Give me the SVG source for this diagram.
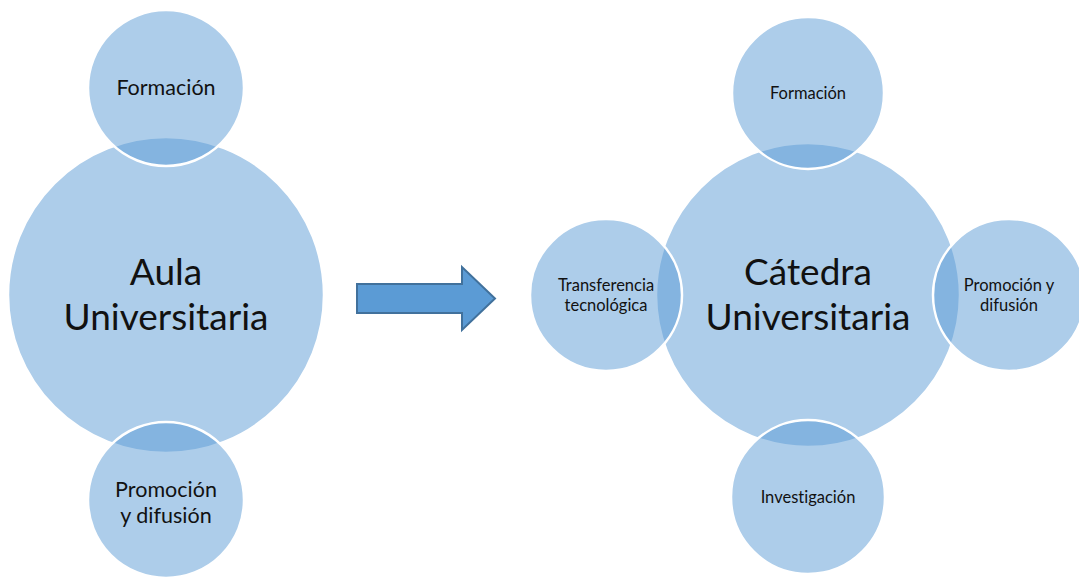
<svg xmlns="http://www.w3.org/2000/svg" width="1079" height="579" viewBox="0 0 1079 579">
<style>
.c{fill:#5b9bd5;fill-opacity:0.5;stroke:#ffffff;stroke-width:2.5}
.t{font-family:Lato,"Liberation Sans",sans-serif;fill:#111111;text-anchor:middle;font-variant-ligatures:none;font-feature-settings:"liga" 0}
.big{font-size:37px}
.mid{font-size:21.5px}
.sm{font-size:16.5px}
</style>
<rect width="1079" height="579" fill="#ffffff"/>
<g id="aula">
<circle class="c" cx="166" cy="295" r="158"/>
<text class="t big" x="166" y="285">Aula</text>
<text class="t big" x="166" y="330">Universitaria</text>
</g>
<g id="aula-formacion">
<circle class="c" cx="166" cy="88" r="78"/>
<text class="t mid" x="166" y="95">Formación</text>
</g>
<g id="aula-promocion">
<circle class="c" cx="166" cy="500" r="78"/>
<text class="t mid" x="166" y="497">Promoción</text>
<text class="t mid" x="166" y="523">y difusión</text>
</g>
<g id="connectors">
<path d="M357,284 H462 V267 L495,298.5 L462,330 V313 H357 Z" fill="#5b9bd5" stroke="#41719c" stroke-width="2"/>
</g>
<g id="catedra">
<circle class="c" cx="808" cy="295" r="152"/>
<text class="t big" x="808" y="285">Cátedra</text>
<text class="t big" x="808" y="330">Universitaria</text>
</g>
<g id="cat-formacion">
<circle class="c" cx="808" cy="93" r="76"/>
<text class="t sm" x="808" y="99">Formación</text>
</g>
<g id="cat-investigacion">
<circle class="c" cx="808" cy="497" r="77"/>
<text class="t sm" x="808" y="503">Investigación</text>
</g>
<g id="cat-transferencia">
<circle class="c" cx="606" cy="295" r="76"/>
<text class="t sm" x="606" y="291">Transferencia</text>
<text class="t sm" x="606" y="311">tecnológica</text>
</g>
<g id="cat-promocion">
<circle class="c" cx="1009" cy="295" r="76"/>
<text class="t sm" x="1009" y="291">Promoción y</text>
<text class="t sm" x="1009" y="311">difusión</text>
</g>
</svg>
